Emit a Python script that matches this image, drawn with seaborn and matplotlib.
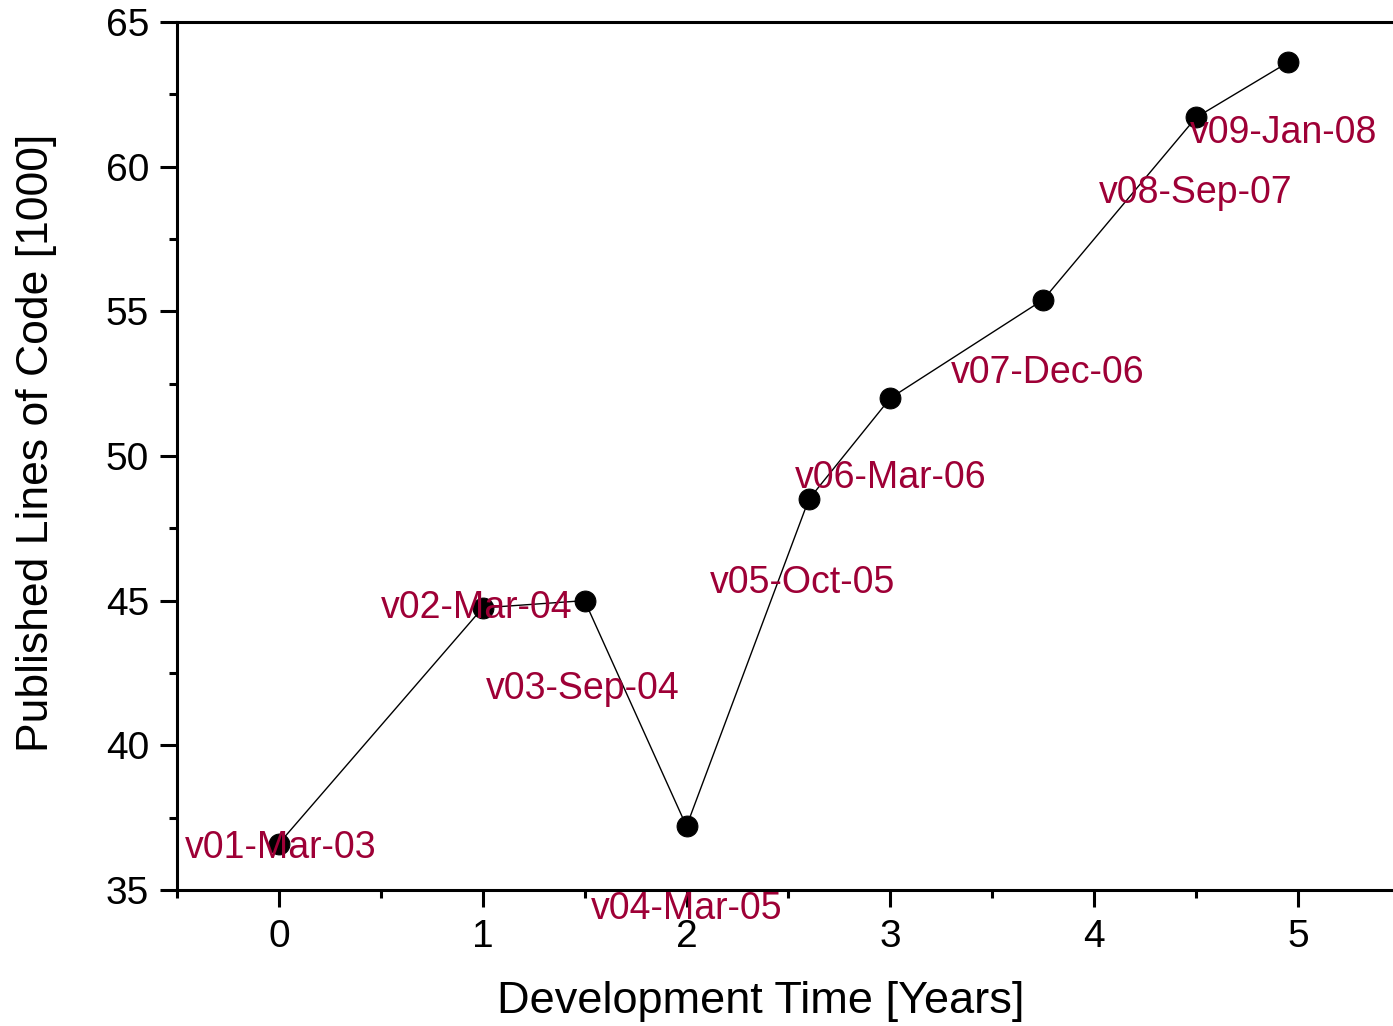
import numpy as np
import pandas as pd
import matplotlib
matplotlib.use('Agg')
import matplotlib.pyplot as plt
import seaborn as sns
from matplotlib.ticker import MultipleLocator

# Release data
years = [0.0, 1.0, 1.5, 2.0, 2.6, 3.0, 3.75, 4.5, 4.95]
loc = [36.6, 44.75, 45.0, 37.2, 48.5, 52.0, 55.4, 61.7, 63.6]
releases = ['v01-Mar-03', 'v02-Mar-04', 'v03-Sep-04', 'v04-Mar-05', 'v05-Oct-05',
            'v06-Mar-06', 'v07-Dec-06', 'v08-Sep-07', 'v09-Jan-08']
# label anchor positions (data coords)
label_x = [0.01, 0.97, 1.49, 2.0, 2.57, 3.0, 3.77, 4.5, 4.93]
label_y = [36.45, 44.75, 41.95, 34.35, 45.6, 49.25, 52.85, 59.1, 61.15]

df = pd.DataFrame({'Years': years, 'LOC': loc, 'Release': releases})

sns.set_style('ticks')
plt.rcParams['font.family'] = ['Liberation Sans', 'DejaVu Sans']

fig = plt.figure(figsize=(13.93, 10.26), dpi=100)
ax = fig.add_axes([0.127, 0.1326, 0.878, 0.846])

sns.lineplot(data=df, x='Years', y='LOC', ax=ax, color='black', linewidth=1.0,
             marker='o', markersize=15, markeredgecolor='black', sort=False)

for lx, ly, txt in zip(label_x, label_y, releases):
    ax.text(lx, ly, txt, color='#9E0036', fontsize=27, ha='center', va='center',
            clip_on=False)

ax.set_xlim(-0.5, 5.5)
ax.set_ylim(35, 65)
ax.xaxis.set_major_locator(MultipleLocator(1))
ax.xaxis.set_minor_locator(MultipleLocator(0.5))
ax.yaxis.set_major_locator(MultipleLocator(5))
ax.yaxis.set_minor_locator(MultipleLocator(2.5))
ax.tick_params(which='major', length=12, width=2.2, labelsize=28, color='black',
               labelcolor='black')
ax.tick_params(which='minor', length=6, width=2.2, color='black')
ax.tick_params(axis='x', which='major', pad=9)
ax.tick_params(axis='y', which='major', pad=8)

for s in ['left', 'bottom', 'top']:
    ax.spines[s].set_linewidth(2.2)
    ax.spines[s].set_color('black')
ax.spines['right'].set_visible(False)

ax.set_xlabel('Development Time [Years]', fontsize=32.5, color='black')
ax.set_ylabel('Published Lines of Code [1000]', fontsize=32, color='black')
ax.xaxis.set_label_coords(0.4775, -0.105)
ax.yaxis.set_label_coords(-0.098, 0.515)

fig.savefig('out.png', dpi=100)
